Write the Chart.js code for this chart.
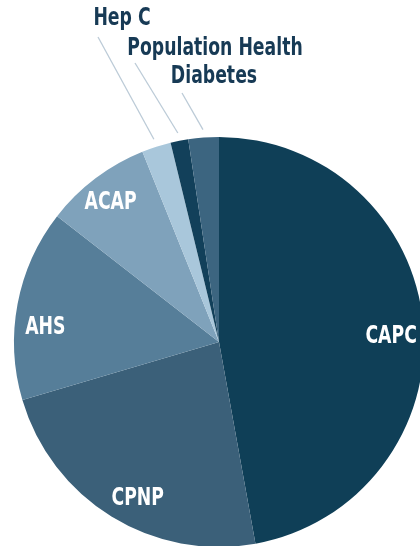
<!DOCTYPE html>
<html>
<head>
<meta charset="utf-8">
<script src="https://cdn.jsdelivr.net/npm/chart.js@4"></script>
<style>
  html, body { margin: 0; padding: 0; background: #fff; overflow: hidden; }
  #wrap { position: absolute; left: 0; top: 0; width: 420px; height: 546px; overflow: hidden; }
  canvas { position: absolute; left: 0; top: 0; }
</style>
</head>
<body>
<div id="wrap"><canvas id="pie-chart" width="440" height="560"></canvas></div>
<script>
const labels = ['CAPC', 'CPNP', 'AHS', 'ACAP', 'Hep C', 'Population Health', 'Diabetes'];
const shares = [47.2, 23.3, 15.1, 8.4, 2.3, 1.4, 2.4];
const colors = ['#0f3f57', '#3b6079', '#567e99', '#7fa2bb', '#a9c7db', '#12405a', '#3c6580'];

// labels inside the slice: where along the arc (0..1) and how far out
const insideLabels = {
    'CAPC': { along: 0.52, out: 0.84 },
    'CPNP': { along: 0.45, out: 0.86 },
    'AHS': { along: 0.39, out: 0.85 },
    'ACAP': { along: 0.47, out: 0.86 }
};
// labels set above the pie with a leader line
const outsideLabels = {
    'Hep C': { x: 122, y: 25, lineX: 98, lineY: 37 },
    'Population Health': { x: 215, y: 55, lineX: 135, lineY: 63 },
    'Diabetes': { x: 214, y: 83, lineX: 182, lineY: 93 }
};

const labelFont = 'bold 24px "Liberation Sans Narrow", "DejaVu Sans Condensed", sans-serif';
const squeeze = 0.8;

function drawText(ctx, text, x, y) {
    ctx.save();
    ctx.translate(x, y);
    ctx.scale(squeeze, 1);
    ctx.fillText(text, 0, 0);
    ctx.restore();
}

const sliceLabels = {
    id: 'sliceLabels',
    afterDraw(chart) {
        const ctx = chart.ctx;
        const arcs = chart.getDatasetMeta(0).data;
        ctx.save();
        ctx.font = labelFont;
        ctx.textAlign = 'center';
        arcs.forEach((arc, i) => {
            const name = labels[i];
            if (insideLabels[name]) {
                const p = insideLabels[name];
                const a = arc.startAngle + (arc.endAngle - arc.startAngle) * p.along;
                const r = arc.outerRadius * p.out;
                ctx.fillStyle = '#ffffff';
                ctx.textBaseline = 'middle';
                drawText(ctx, name, arc.x + Math.cos(a) * r, arc.y + Math.sin(a) * r);
            } else if (outsideLabels[name]) {
                const o = outsideLabels[name];
                const mid = (arc.startAngle + arc.endAngle) / 2;
                const r = arc.outerRadius + 8;
                ctx.strokeStyle = '#bccbd7';
                ctx.lineWidth = 1.3;
                ctx.beginPath();
                ctx.moveTo(o.lineX, o.lineY);
                ctx.lineTo(arc.x + Math.cos(mid) * r, arc.y + Math.sin(mid) * r);
                ctx.stroke();
                ctx.fillStyle = '#173a55';
                ctx.textBaseline = 'alphabetic';
                drawText(ctx, name, o.x, o.y);
            }
        });
        ctx.restore();
    }
};

const ctx = document.getElementById('pie-chart').getContext('2d');
new Chart(ctx, {
    type: 'pie',
    data: {
        labels: labels,
        datasets: [{
            data: shares,
            backgroundColor: colors,
            borderWidth: 0
        }]
    },
    options: {
        responsive: false,
        animation: false,
        layout: {
            padding: { left: 14, top: 137, right: 16, bottom: 13 }
        },
        plugins: {
            legend: { display: false },
            tooltip: { enabled: false }
        }
    },
    plugins: [sliceLabels]
});
</script>
</body>
</html>
